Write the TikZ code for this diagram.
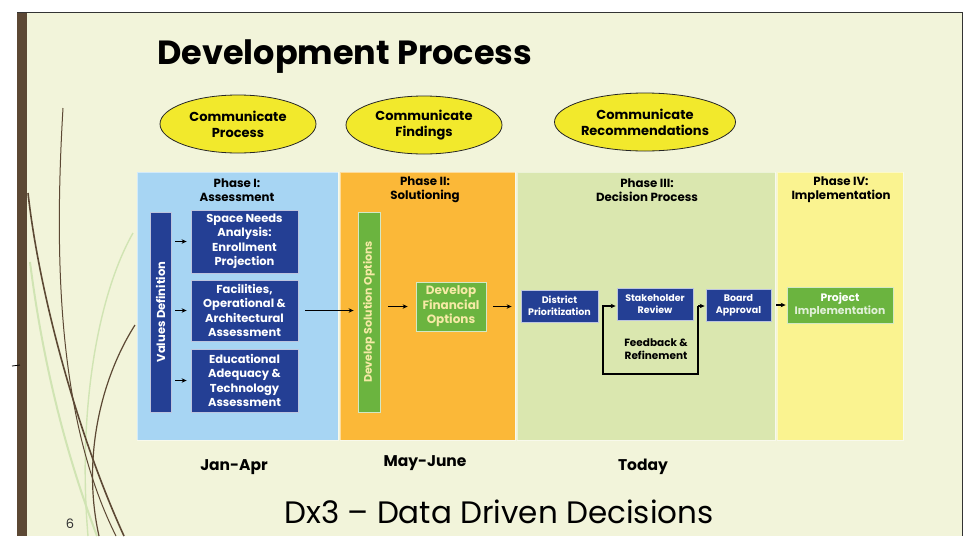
\documentclass[tikz,border=0pt]{standalone}
\usepackage{fontspec}
\setmainfont{Poppins}
\usetikzlibrary{shapes.geometric,arrows.meta}
\definecolor{slidebg}{HTML}{F2F4DA}
\definecolor{barbrown}{HTML}{5C4834}
\definecolor{phaseA}{HTML}{A7D5F3}
\definecolor{phaseB}{HTML}{FBB838}
\definecolor{phaseC}{HTML}{DAE7AF}
\definecolor{phaseD}{HTML}{FAF390}
\definecolor{navy}{HTML}{243F94}
\definecolor{leaf}{HTML}{6BB43F}
\definecolor{bubble}{HTML}{F2E92C}
\definecolor{cream}{HTML}{F6EAA6}
\tikzset{panel/.style = {shape=rectangle,draw=white,draw opacity=0.5,line width=1,inner sep=0,minimum height=268}}
\tikzset{bubble/.style = {shape=ellipse,draw=black!85,fill=bubble,line width=0.8,inner sep=0,minimum width=156,minimum height=58,align=center,font=\bfseries\fontsize{13}{16}\selectfont}}
\tikzset{head/.style = {align=center,inner sep=0,font=\bfseries\fontsize{11.8}{14}\selectfont}}
\tikzset{bluebox/.style = {shape=rectangle,fill=navy,draw=white!70!navy,line width=0.8,inner sep=0,text=white,align=center,font=\bfseries\fontsize{11.5}{14.5}\selectfont}}
\tikzset{greenbox/.style = {shape=rectangle,fill=leaf,draw=white!70!leaf,line width=0.8,inner sep=0,text=cream,align=center,font=\bfseries\fontsize{12}{14.5}\selectfont}}
\tikzset{edge/.style = {->,>={Stealth[length=5pt,width=4.5pt]},line width=1.1,shorten <=4,shorten >=4}}
\tikzset{when/.style = {inner sep=0,font=\bfseries\fontsize{15.5}{18}\selectfont}}

\begin{document}
\begin{tikzpicture}[x=1pt,y=-1pt]
\useasboundingbox (0,0) rectangle (968,536);
% slide
\fill[white] (0,0) rectangle (968,536);
\fill[slidebg] (17,12) rectangle (962,536);
\fill[barbrown] (17,12) rectangle (27,536);
\draw[black!80,line width=1] (17,12) -- (962,12) -- (962,536);

% stems
\draw[leaf!25!slidebg,line width=1.4] (133,233) .. controls (95,300) and (78,420) .. (88,536);
\draw[leaf!25!slidebg,line width=2] (30,262) .. controls (45,380) and (72,470) .. (97,536);
\draw[barbrown,line width=1] (63,108) .. controls (54,260) and (58,420) .. (116,536);
\draw[barbrown,line width=1.6] (28,193) .. controls (40,300) and (80,440) .. (124,536);
\draw[barbrown,line width=1.2] (135,325) .. controls (100,380) and (82,460) .. (99,536);
\draw[black,line width=0.8] (12,366) -- (20,365);

\node[inner sep=0,font=\bfseries\fontsize{33.5}{38}\selectfont,anchor=base west] (title) at (157,64) {Development Process};

% bubbles
\node[bubble] (cp) at (238,124) {Communicate\\Process};
\node[bubble] (cf) at (424,125) {Communicate\\Findings};
\node[bubble] (cr) at (645,122) {Communicate\\Recommendations};

% phases
\node[panel,fill=phaseA,minimum width=201] (p1) at (237.5,306) {};
\node[panel,fill=phaseB,minimum width=175] (p2) at (427.5,306) {};
\node[panel,fill=phaseC,minimum width=258] (p3) at (646,306) {};
\node[panel,fill=phaseD,minimum width=126] (p4) at (840,306) {};
\node[head] (h1) at (237,190) {Phase I:\\Assessment};
\node[head] (h2) at (425,190) {Phase II:\\Solutioning};
\node[head] (h3) at (647,190) {Phase III:\\Decision Process};
\node[head] (h4) at (841,190) {Phase IV:\\Implementation};

% boxes
\node[bluebox,minimum width=21,minimum height=200] (vd) at (160.5,312) {\rotatebox{90}{Values Definition}};
\node[bluebox,minimum width=107,minimum height=63] (b1) at (244.5,241.5) {Space Needs\\Analysis:\\Enrollment\\Projection};
\node[bluebox,minimum width=107,minimum height=61] (b2) at (244.5,310.5) {Facilities,\\Operational \&\\Architectural\\Assessment};
\node[bluebox,minimum width=107,minimum height=63] (b3) at (244.5,380.5) {Educational\\Adequacy \&\\Technology\\Assessment};
\node[greenbox,minimum width=22,minimum height=200,font=\bfseries\fontsize{11}{12}\selectfont] (dso) at (369,312) {\rotatebox{90}{Develop Solution Options}};
\node[greenbox,minimum width=70,minimum height=49] (fin) at (451,306.5) {Develop\\Financial\\Options};
\node[bluebox,minimum width=77,minimum height=32,font=\bfseries\fontsize{9.5}{12}\selectfont] (dist) at (559.5,306) {District\\Prioritization};
\node[bluebox,minimum width=76,minimum height=32,font=\bfseries\fontsize{9.5}{12}\selectfont] (stake) at (655,304) {Stakeholder\\Review};
\node[bluebox,minimum width=65,minimum height=32,font=\bfseries\fontsize{9.5}{12}\selectfont] (board) at (738.5,305) {Board\\Approval};
\node[greenbox,minimum width=106,minimum height=36,font=\bfseries\fontsize{10.8}{12.5}\selectfont] (proj) at (840,305) {\textcolor{white}{Project}\\\textcolor{white!80!leaf}{Implementation}};
\node[head,font=\bfseries\fontsize{10.5}{13}\selectfont] (fb) at (656,349) {Feedback \&\\Refinement};
\coordinate (fbL) at (603,306);
\coordinate (fbR) at (698,306);

%edges
\draw[edge] (vd.east |- b1.west) -- (b1.west);
\draw[edge] (vd.east |- b2.west) -- (b2.west);
\draw[edge] (vd.east |- b3.west) -- (b3.west);
\draw[edge,shorten <=7] (b2.east) -- (dso.west |- b2.east);
\draw[edge,shorten <=8,shorten >=8] (dso.east |- fin.west) -- (fin.west);
\draw[edge,shorten <=7,shorten >=9] (fin.east) -- (dist.west |- fin.east);
\draw[edge,shorten <=0,shorten >=1] (fbR) -- ++(0,68) -| (fbL) -- (stake.west |- fbL);
\draw[edge,shorten <=0,shorten >=1] (fbR) -- (board.west |- fbR);
\draw[edge,shorten <=5,shorten >=1] (board.east) -- (proj.west |- board.east);

% dates
\node[when] (t1) at (234,467) {Jan-Apr};
\node[when] (t2) at (425,463) {May-June};
\node[when] (t3) at (643,467) {Today};
\node[inner sep=0,font=\fontsize{31}{34}\selectfont] (dx) at (499,512) {Dx3 – Data Driven Decisions};
\node[inner sep=0,font=\fontsize{13}{14}\selectfont,text=black!80] (pg) at (70,524) {6};
\end{tikzpicture}
\end{document}
